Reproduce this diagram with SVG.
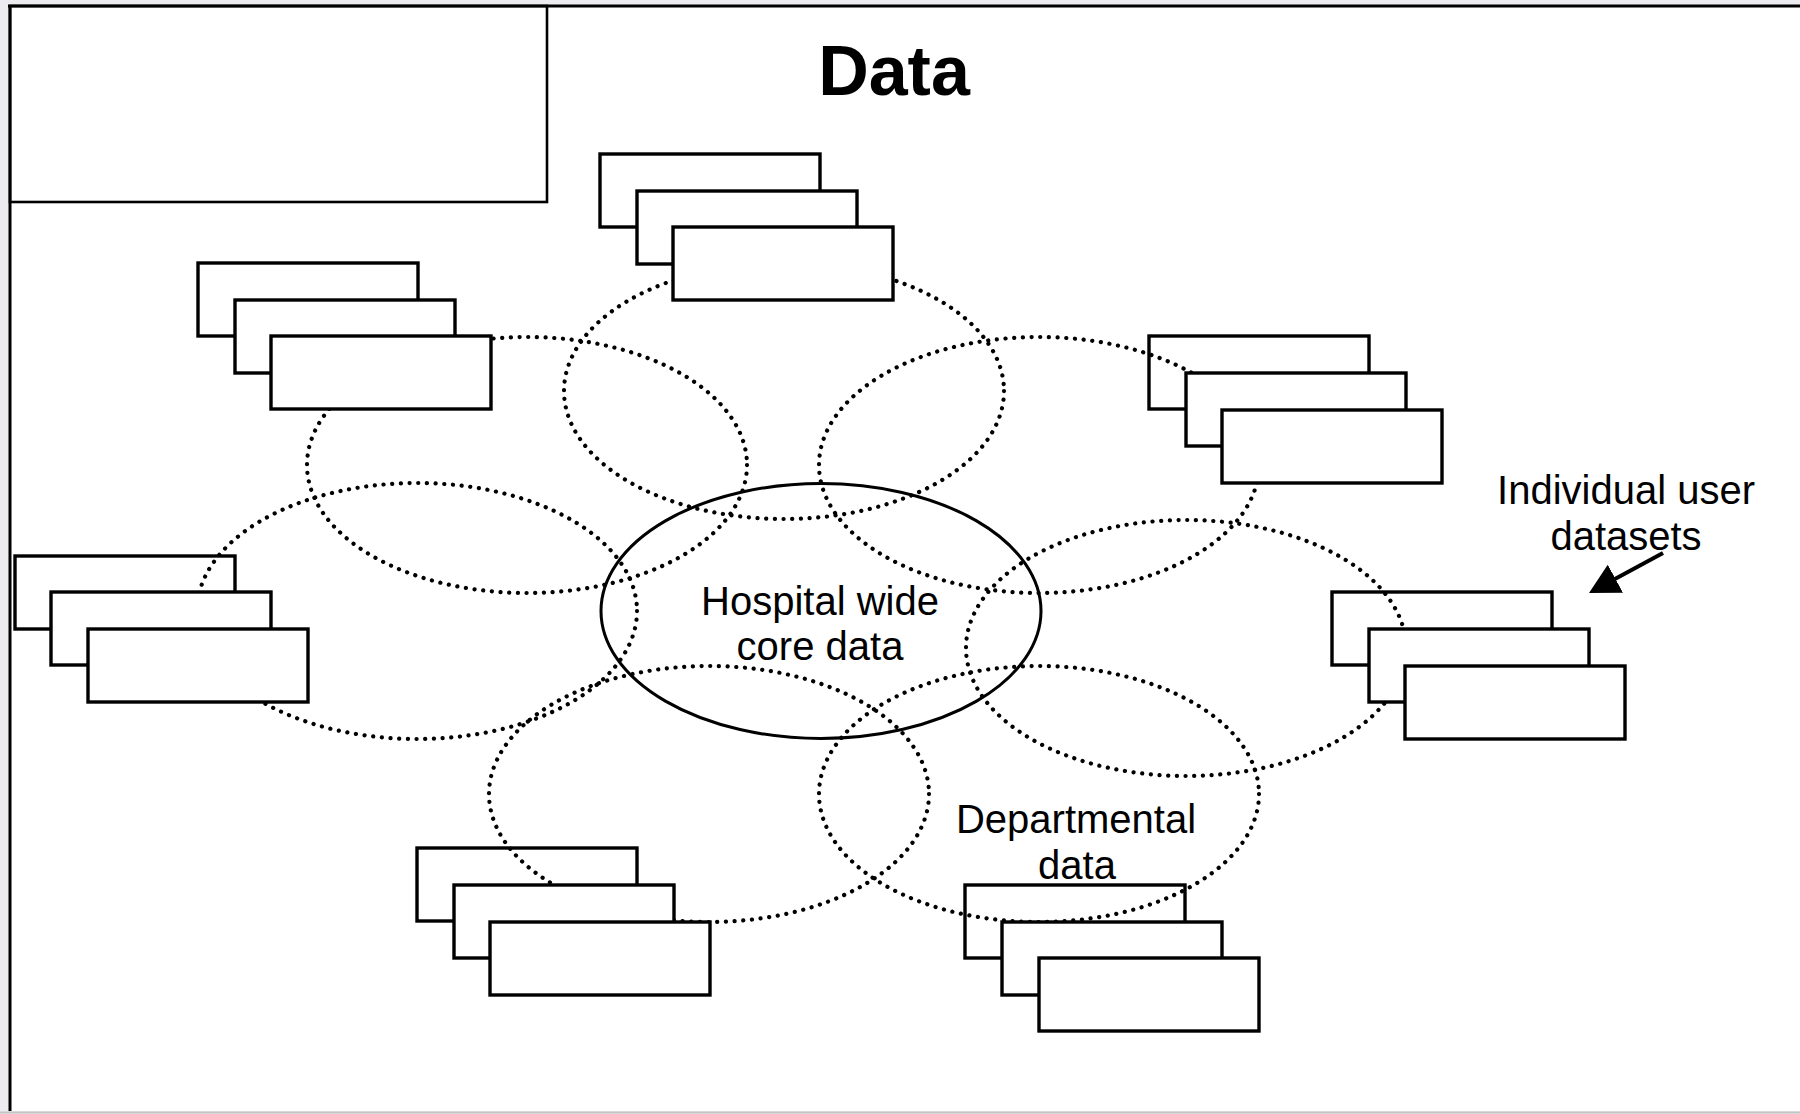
<svg xmlns="http://www.w3.org/2000/svg" width="1800" height="1114" viewBox="0 0 1800 1114">
<style>
.dot{fill:none;stroke:#000;stroke-width:4.2;stroke-dasharray:0.1 8.6;stroke-linecap:round}
.core{fill:none;stroke:#000;stroke-width:3}
.box{fill:#fff;stroke:#000;stroke-width:3.4}
.box1{fill:none;stroke:#000;stroke-width:3.4}
.lbl{font-family:"Liberation Sans",Arial,sans-serif;font-size:40px;fill:#000;text-anchor:middle}
.title{font-family:"Liberation Sans",Arial,sans-serif;font-size:70px;font-weight:bold;fill:#000;text-anchor:middle}
</style>
<defs>
<marker id="ah" markerUnits="userSpaceOnUse" viewBox="0 0 30 32" markerWidth="30" markerHeight="32" refX="10" refY="16" orient="auto">
<path d="M0,0 L30,16 L0,32 z" fill="#000"/>
</marker>
</defs>
<rect x="0" y="0" width="1800" height="1114" fill="#ececf0"/>
<rect x="10" y="6" width="1790" height="1105" fill="#fff"/>
<line x1="0" y1="1112.5" x2="1800" y2="1112.5" stroke="#c4c4c4" stroke-width="2"/>
<line x1="8" y1="6" x2="1800" y2="6" stroke="#000" stroke-width="3"/>
<line x1="10" y1="5" x2="10" y2="1111" stroke="#000" stroke-width="3"/>
<g id="corner-box"><rect x="10" y="6" width="537" height="196" fill="none" stroke="#000" stroke-width="2.6"/></g>
<g id="title"><text class="title" x="894" y="95">Data</text></g>

<g id="dept-top"><ellipse class="dot" cx="784" cy="391" rx="220" ry="128"/></g>
<g id="dept-top-left"><ellipse class="dot" cx="527" cy="465" rx="220" ry="128"/></g>
<g id="dept-top-right"><ellipse class="dot" cx="1039" cy="465" rx="220" ry="128"/></g>
<g id="dept-left"><ellipse class="dot" cx="417" cy="611" rx="220" ry="128"/></g>
<g id="dept-right"><ellipse class="dot" cx="1186" cy="648" rx="220" ry="128"/></g>
<g id="dept-bottom-left"><ellipse class="dot" cx="709" cy="794" rx="220" ry="128"/></g>
<g id="dept-bottom-right"><ellipse class="dot" cx="1039" cy="794" rx="220" ry="128"/>
<text class="lbl" x="1076" y="833">Departmental</text>
<text class="lbl" x="1077" y="879">data</text></g>

<g id="core"><ellipse class="core" cx="821" cy="611" rx="220" ry="127.5"/>
<text class="lbl" x="820" y="615">Hospital wide</text>
<text class="lbl" x="820" y="660">core data</text></g>

<g id="stack-top"><rect class="box1" x="600" y="154" width="220" height="73"/><rect class="box" x="637" y="191" width="220" height="73"/><rect class="box" x="673" y="227" width="220" height="73"/></g>
<g id="stack-top-left"><rect class="box1" x="198" y="263" width="220" height="73"/><rect class="box" x="235" y="300" width="220" height="73"/><rect class="box" x="271" y="336" width="220" height="73"/></g>
<g id="stack-top-right"><rect class="box1" x="1149" y="336" width="220" height="73"/><rect class="box" x="1186" y="373" width="220" height="73"/><rect class="box" x="1222" y="410" width="220" height="73"/></g>
<g id="stack-left"><rect class="box1" x="15" y="556" width="220" height="73"/><rect class="box" x="51" y="592" width="220" height="73"/><rect class="box" x="88" y="629" width="220" height="73"/></g>
<g id="stack-right"><rect class="box1" x="1332" y="592" width="220" height="73"/><rect class="box" x="1369" y="629" width="220" height="73"/><rect class="box" x="1405" y="666" width="220" height="73"/></g>
<g id="stack-bottom-left"><rect class="box1" x="417" y="848" width="220" height="73"/><rect class="box" x="454" y="885" width="220" height="73"/><rect class="box" x="490" y="922" width="220" height="73"/></g>
<g id="stack-bottom-right"><rect class="box1" x="965" y="885" width="220" height="73"/><rect class="box" x="1002" y="922" width="220" height="73"/><rect class="box" x="1039" y="958" width="220" height="73"/></g>

<g id="user-label"><text class="lbl" x="1626" y="504">Individual user</text><text class="lbl" x="1626" y="550">datasets</text></g>
<g id="connectors"><line x1="1663" y1="553" x2="1606.6" y2="583.5" stroke="#000" stroke-width="4" marker-end="url(#ah)"/></g>
</svg>
